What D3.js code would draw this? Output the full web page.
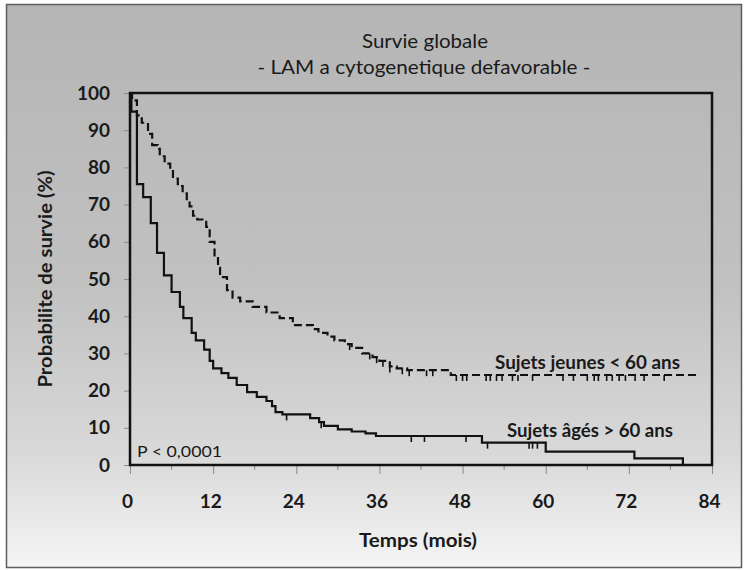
<!DOCTYPE html>
<html>
<head>
<meta charset="utf-8">
<script src="https://cdn.jsdelivr.net/npm/d3@7"></script>
<style>
  html, body { margin: 0; padding: 0; background: #ffffff; }
  svg { display: block; font-family: Lato, "Open Sans", sans-serif; }
</style>
</head>
<body>
<svg id="chart" width="746" height="570"></svg>
<script>
// ---------- DATA ----------
const xTicks = [0, 12, 24, 36, 48, 60, 72, 84];
const xMinorTicks = [6, 18, 30, 42, 54, 66, 78];
const yTicks = [0, 10, 20, 30, 40, 50, 60, 70, 80, 90, 100];

// Sujets jeunes < 60 ans (dashed) : step times (months) and survival (%)
const youngTimes = [0, 0.3, 1.0, 1.7, 2.6, 3.2, 4.0, 4.3, 5.0, 5.8, 6.2, 6.9, 7.6, 8.2, 8.6, 9.1, 9.7, 11.0, 11.5, 12.2, 12.7, 13.0, 14.0, 14.8, 15.9, 17.7, 19.7, 21.6, 23.5, 26.4, 27.2, 28.5, 29.5, 31.0, 32.0, 33.5, 35.0, 36.0, 37.5, 38.5, 40.0, 46.3, 81.8];
const youngSurv  = [100, 98, 94, 92, 89, 86, 85, 83, 81, 79, 77, 75, 73, 71, 69.5, 67, 66, 64, 60, 56, 53, 50.5, 47, 45, 44, 42.5, 41, 39.5, 37.6, 36.5, 35.5, 34.5, 33.5, 32.5, 31.5, 30, 29, 28, 26.5, 26, 25.5, 24.2, 24.2];
const youngCensor = [31.7, 34.6, 35.6, 36.5, 37.5, 39.3, 40.3, 42.8, 43.7, 47.1, 48.0, 48.6, 51.4, 52.0, 52.9, 53.7, 55.2, 56.0, 58.1, 62.5, 64.0, 66.0, 67.0, 67.6, 68.8, 69.6, 70.6, 71.5, 72.9, 74.2, 77.1];

// Sujets âgés > 60 ans (solid)
const oldTimes = [0, 0.2, 1.0, 1.9, 3.0, 3.9, 4.9, 6.0, 7.2, 7.7, 8.9, 9.5, 10.7, 11.5, 12.0, 13.2, 14.2, 15.4, 16.9, 18.3, 19.7, 20.5, 21.0, 22.0, 26.0, 27.3, 28.0, 30.0, 32.0, 34.0, 35.5, 50.8, 60.0, 72.8, 79.8];
const oldSurv  = [100, 95, 75.5, 72, 65, 57, 51, 46.5, 42.5, 39.5, 35.5, 33.5, 31, 28, 26, 24.7, 23.4, 21.5, 19.6, 18.3, 17.2, 15.8, 14.2, 13.6, 12.6, 11.5, 10.5, 9.6, 9.0, 8.5, 7.8, 6.0, 3.6, 1.8, 0];
const oldCensor = [22.6, 27.6, 40.6, 42.5, 48.5, 51.6, 57.6, 58.1, 58.8];

const titleText = "Survie globale";
const subtitleText = "- LAM a cytogenetique defavorable -";
const xLabel = "Temps (mois)";
const yLabel = "Probabilite de survie (%)";
const youngLabel = "Sujets jeunes < 60 ans";
const oldLabel = "Sujets âgés > 60 ans";
const pText = "P < 0,0001";

// ---------- LAYOUT ----------
const svg = d3.select("#chart");
const W = 746, H = 570;
const plot = { left: 130, right: 712, top: 93, bottom: 465 };
const ink = "#1a1a1a";

const x = d3.scaleLinear().domain([0, 84]).range([plot.left, plot.right]);
const y = d3.scaleLinear().domain([0, 100]).range([plot.bottom, plot.top]);

// background gradient
const defs = svg.append("defs");
const grad = defs.append("linearGradient").attr("id", "bg").attr("x1", 0).attr("y1", 0).attr("x2", 0).attr("y2", 1);
grad.append("stop").attr("offset", "0%").attr("stop-color", "#b5b5b5");
grad.append("stop").attr("offset", "50%").attr("stop-color", "#c1c1c1");
grad.append("stop").attr("offset", "80%").attr("stop-color", "#d9d9d9");
grad.append("stop").attr("offset", "100%").attr("stop-color", "#f5f5f5");

svg.append("rect").attr("x", 0).attr("y", 0).attr("width", W).attr("height", H).attr("fill", "#ffffff");
svg.append("rect").attr("x", 6.5).attr("y", 4.5).attr("width", 735).attr("height", 563)
  .attr("fill", "url(#bg)").attr("stroke", "#5e5e5e").attr("stroke-width", 1.5);

function label(txt, xPos, yPos, size, weight, width, anchor) {
  const t = svg.append("text").attr("x", xPos).attr("y", yPos)
    .attr("text-anchor", anchor || "middle")
    .attr("font-size", size).attr("font-weight", weight).attr("fill", ink).text(txt);
  if (width) t.attr("textLength", width).attr("lengthAdjust", "spacingAndGlyphs");
  return t;
}

// titles
label(titleText, 425, 48, 19, "normal", 126);
label(subtitleText, 424, 74, 19, "normal", 333);

// minor x ticks
svg.append("g").selectAll("line").data(xMinorTicks).join("line")
  .attr("x1", d => x(d)).attr("x2", d => x(d))
  .attr("y1", plot.bottom).attr("y2", plot.bottom + 5)
  .attr("stroke", "#8a8a8a").attr("stroke-width", 1);

// axes
const xAxis = d3.axisBottom(x).tickValues(xTicks).tickSize(9).tickPadding(21).tickFormat(d3.format("d"));
const gx = svg.append("g").attr("transform", `translate(0,${plot.bottom})`).call(xAxis);
gx.select(".domain").remove();
gx.selectAll(".tick line").attr("stroke", "#8a8a8a");
gx.selectAll(".tick text").attr("font-size", 19).attr("font-weight", "bold").attr("fill", ink)
  .attr("font-family", "Lato, sans-serif").attr("dx", -3);

const yAxis = d3.axisLeft(y).tickValues(yTicks).tickSize(6).tickPadding(14).tickFormat(d3.format("d"));
const gy = svg.append("g").attr("transform", `translate(${plot.left},0)`).call(yAxis);
gy.select(".domain").remove();
gy.selectAll(".tick line").attr("stroke", "#8a8a8a");
gy.selectAll(".tick text").attr("font-size", 19).attr("font-weight", "bold").attr("fill", ink)
  .attr("font-family", "Lato, sans-serif");

// axis titles
label(xLabel, 418, 547, 19, "bold", 118);
svg.append("text").attr("transform", "translate(52,279) rotate(-90)").attr("text-anchor", "middle")
  .attr("font-size", 19).attr("font-weight", "bold").attr("fill", ink)
  .attr("textLength", 217).attr("lengthAdjust", "spacingAndGlyphs").text(yLabel);

// curves
const line = d3.line().x(d => x(d[0])).y(d => y(d[1])).curve(d3.curveStepAfter);
const youngData = youngTimes.map((t, i) => [t, youngSurv[i]]);
const oldData = oldTimes.map((t, i) => [t, oldSurv[i]]);

svg.append("path").datum(oldData).attr("d", line)
  .attr("fill", "none").attr("stroke", "#111").attr("stroke-width", 2.2);
svg.append("path").datum(youngData).attr("d", line)
  .attr("fill", "none").attr("stroke", "#111").attr("stroke-width", 2.2)
  .attr("stroke-dasharray", "8,4");

// censor marks
function survAt(times, surv, t) {
  const i = d3.bisectRight(times, t) - 1;
  return surv[Math.max(0, i)];
}
svg.append("g").selectAll("line").data(oldCensor).join("line")
  .attr("x1", d => x(d)).attr("x2", d => x(d))
  .attr("y1", d => y(survAt(oldTimes, oldSurv, d)))
  .attr("y2", d => y(survAt(oldTimes, oldSurv, d)) + 6)
  .attr("stroke", "#111").attr("stroke-width", 1.6);
svg.append("g").selectAll("line").data(youngCensor).join("line")
  .attr("x1", d => x(d)).attr("x2", d => x(d))
  .attr("y1", d => y(survAt(youngTimes, youngSurv, d)))
  .attr("y2", d => y(survAt(youngTimes, youngSurv, d)) + 6)
  .attr("stroke", "#111").attr("stroke-width", 1.6);

// plot frame
svg.append("rect").attr("x", plot.left).attr("y", plot.top)
  .attr("width", plot.right - plot.left).attr("height", plot.bottom - plot.top)
  .attr("fill", "none").attr("stroke", "#111").attr("stroke-width", 2.5);

// labels inside plot
label(youngLabel, 495, 369, 18, "bold", 185, "start");
label(oldLabel, 507, 437, 18, "bold", 166, "start");
label(pText, 137, 457, 16, "normal", 85, "start");
</script>
</body>
</html>
